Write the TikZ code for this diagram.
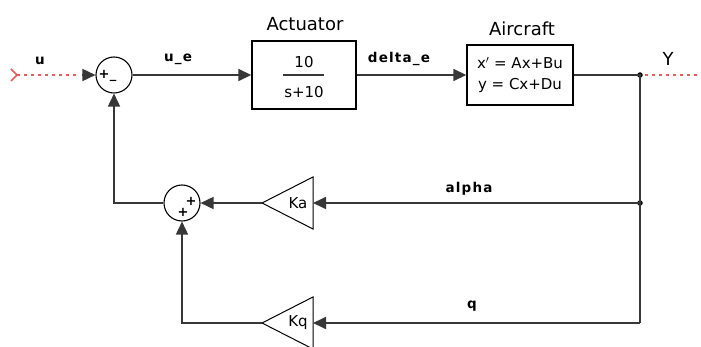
\documentclass[tikz,border=0pt]{standalone}
\usepackage{fontspec}
\setmainfont{DejaVu Sans}
\usetikzlibrary{arrows.meta,calc}
\definecolor{wire}{RGB}{55,55,55}
\definecolor{sig}{RGB}{228,92,92}
\begin{document}
\begin{tikzpicture}[x=1pt,y=-1pt,
  wire/.style={draw=wire,line width=1.7pt},
  arr/.style={wire,-{Triangle[length=13pt,width=12pt]}},
  red/.style={draw=sig,line width=2pt,dash pattern=on 3pt off 4pt},
  sumc/.style={circle,draw=black,line width=1.1pt,minimum size=36pt,inner sep=0pt},
  blk/.style={draw=black,line width=1.4pt,inner sep=0pt},
  gain/.style={draw=black,line width=1pt,line join=miter},
  title/.style={font=\fontsize{18}{18}\selectfont},
  lab/.style={font=\bfseries\fontsize{13.5}{13.5}\selectfont\addfontfeature{LetterSpace=9}},
  btxt/.style={font=\fontsize{15}{15}\selectfont},
  sgn/.style={font=\bfseries\fontsize{13}{13}\selectfont,inner sep=0pt},
  dot/.style={circle,fill=black,inner sep=0pt,minimum size=5.5pt}
]
\useasboundingbox (0,0) rectangle (701,347);
% blocks
\node[sumc] (s1) at (114,75) {};
\node[sumc] (s2) at (182,203) {};
\node[blk,minimum width=104pt,minimum height=68pt] (act) at (304,75) {};
\node[blk,minimum width=106pt,minimum height=60pt] (ac) at (520,75) {};
\node[title] (actt) at (305,24) {Actuator};
\node[title] (act2) at (522,29) {Aircraft};
\node[btxt] (num) at (304,62) {10};
\node[btxt] (den) at (304,92) {s+10};
\draw[wire,line width=1.4pt] (283,75) -- (324,75);
\node[btxt] (ss1) at (520,63) {x$'$ = Ax+Bu};
\node[btxt] (ss2) at (520,85) {y = Cx+Du};
% gains
\coordinate (kain) at (313,203);
\coordinate (katip) at (262,203);
\coordinate (kqin) at (313,323);
\coordinate (kqtip) at (262,323);
\draw[gain] (313,177) -- (katip) -- (313,229) -- cycle;
\draw[gain] (313,297) -- (kqtip) -- (313,349) -- cycle;
\node[btxt] (ka) at (298,203) {Ka};
\node[btxt] (kq) at (298,323) {Kq};
% signs
\node[sgn] (p1) at (104,74) {+};
\node[sgn] (m1) at (113,80) {\_};
\node[sgn] (p2) at (191,201) {+};
\node[sgn] (p3) at (183,212) {+};
% branch points
\node[dot] (b1) at (640,75) {};
\node[dot] (b2) at (640,203) {};
\coordinate (b3) at (640,323);
% input
\coordinate (inp) at (17,75);
\draw[draw=sig,line width=1.6pt] (11,69) -- (inp) -- (11,81);
\draw[red] (inp) -- ($(s1.west)+(-16,0)$);
\draw[arr] ($(s1.west)+(-13,0)$) -- (s1.west);
% output
\coordinate (outp) at (701,75);
\draw[red] (b1) ++(5,0) -- (outp);
% main path
\draw[arr] (s1.east) -- (act.west);
\draw[arr] (act.east) -- (ac.west);
\draw[wire] (ac.east) -- (b1.center) -- (b3);
\draw[arr] (b2.center) -- (kain);
\draw[arr] (b3) -- (kqin);
\draw[arr] (katip) -- (s2.east);
\draw[arr] (kqtip) -| (s2.south);
\draw[arr] (s2.west) -| (s1.south);
% labels
\node[lab] (lu) at (40,61) {u};
\node[lab] (lue) at (178,59) {u\_e};
\node[lab] (lde) at (399,59) {delta\_e};
\node[title] (ly) at (668,59) {Y};
\node[lab] (lal) at (469,189) {alpha};
\node[lab] (lq) at (472,306) {q};
\end{tikzpicture}
\end{document}
